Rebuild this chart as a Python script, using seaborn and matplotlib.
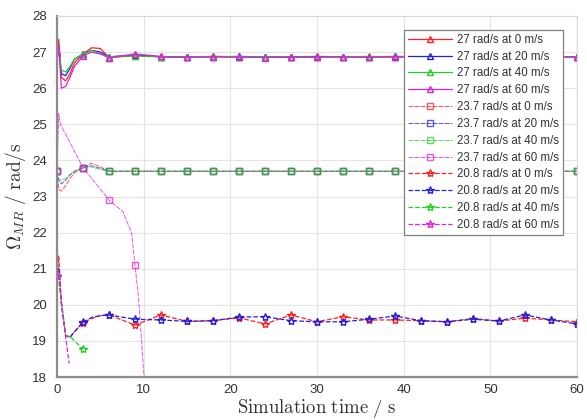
import matplotlib
matplotlib.use("Agg")
import matplotlib.pyplot as plt
import numpy as np
import pandas as pd
import seaborn as sns

# ---- data -------------------------------------------------------------
# shared time base for the series that run the full simulation
t_full = [0, 0.2, 0.5, 1, 1.5, 2, 3, 4, 5, 6, 9, 12, 15, 18, 21, 24, 27,
          30, 33, 36, 39, 42, 45, 48, 51, 54, 57, 60]

# 27 rad/s set-point
w27_v0 = [27.0, 27.35, 26.3, 26.2, 26.4, 26.7, 26.95, 27.12, 27.1, 26.85, 26.9,
          26.87, 26.86, 26.88, 26.87, 26.86, 26.87, 26.88, 26.87, 26.86, 26.87,
          26.87, 26.86, 26.87, 26.88, 26.87, 26.87, 26.87]
w27_v20 = [27.0, 27.1, 26.4, 26.35, 26.55, 26.8, 26.95, 27.05, 27.0, 26.87, 26.92,
           26.87, 26.87, 26.87, 26.88, 26.87, 26.86, 26.87, 26.87, 26.87, 26.88,
           26.87, 26.87, 26.86, 26.87, 26.87, 26.88, 26.87]
w27_v40 = [27.0, 27.1, 26.5, 26.45, 26.6, 26.8, 26.95, 27.05, 26.95, 26.87, 26.9,
           26.87, 26.87, 26.88, 26.87, 26.87, 26.87, 26.86, 26.87, 26.88, 26.87,
           26.87, 26.87, 26.87, 26.86, 26.87, 26.87, 26.87]
w27_v60 = [27.0, 27.2, 26.0, 26.05, 26.3, 26.6, 26.9, 27.0, 26.95, 26.84, 26.95,
           26.88, 26.86, 26.87, 26.86, 26.85, 26.87, 26.86, 26.87, 26.86, 26.87,
           26.86, 26.87, 26.87, 26.86, 26.87, 26.86, 26.87]

# 23.7 rad/s set-point
w237_v0 = [23.7, 23.2, 23.15, 23.3, 23.5, 23.65, 23.8, 23.92, 23.82, 23.7, 23.7,
           23.7, 23.7, 23.7, 23.7, 23.7, 23.7, 23.7, 23.7, 23.7, 23.7, 23.7,
           23.7, 23.7, 23.7, 23.7, 23.7, 23.7]
w237_v20 = [23.7, 23.45, 23.35, 23.45, 23.6, 23.7, 23.8, 23.85, 23.78, 23.7, 23.7,
            23.7, 23.7, 23.7, 23.7, 23.7, 23.7, 23.7, 23.7, 23.7, 23.7, 23.7,
            23.7, 23.7, 23.7, 23.7, 23.7, 23.7]
w237_v40 = [23.7, 23.5, 23.45, 23.5, 23.6, 23.7, 23.8, 23.82, 23.75, 23.7, 23.7,
            23.7, 23.7, 23.7, 23.7, 23.7, 23.7, 23.7, 23.7, 23.7, 23.7, 23.7,
            23.7, 23.7, 23.7, 23.7, 23.7, 23.7]
t_w237_v60 = [0, 0.2, 0.4, 3, 6, 7.6, 8.6, 9, 9.4, 9.7, 9.9, 10.05]
w237_v60 = [23.7, 25.3, 25.0, 23.8, 22.9, 22.58, 22.0, 21.1, 20.2, 19.2, 18.5, 18.0]

# 20.8 rad/s set-point
w208_v0 = [20.8, 21.35, 20.1, 19.15, 19.1, 19.25, 19.5, 19.62, 19.7, 19.72, 19.44,
           19.72, 19.54, 19.56, 19.64, 19.47, 19.72, 19.53, 19.67, 19.58, 19.58,
           19.56, 19.53, 19.62, 19.55, 19.63, 19.58, 19.53]
w208_v20 = [20.8, 21.0, 20.05, 19.15, 19.1, 19.25, 19.52, 19.65, 19.7, 19.72, 19.6,
            19.58, 19.54, 19.56, 19.66, 19.67, 19.56, 19.53, 19.53, 19.6, 19.69,
            19.56, 19.53, 19.6, 19.55, 19.72, 19.58, 19.47]
t_w208_v40 = [0, 0.2, 0.5, 1, 1.5, 2, 3]
w208_v40 = [20.8, 20.7, 20.05, 19.15, 19.12, 19.0, 18.78]
t_w208_v60 = [0, 0.2, 0.5, 1, 1.4]
w208_v60 = [20.8, 20.9, 20.05, 19.1, 18.38]

labels = ["27 rad/s at 0 m/s", "27 rad/s at 20 m/s", "27 rad/s at 40 m/s",
          "27 rad/s at 60 m/s", "23.7 rad/s at 0 m/s", "23.7 rad/s at 20 m/s",
          "23.7 rad/s at 40 m/s", "23.7 rad/s at 60 m/s", "20.8 rad/s at 0 m/s",
          "20.8 rad/s at 20 m/s", "20.8 rad/s at 40 m/s", "20.8 rad/s at 60 m/s"]
times = [t_full, t_full, t_full, t_full, t_full, t_full, t_full, t_w237_v60,
         t_full, t_full, t_w208_v40, t_w208_v60]
values = [w27_v0, w27_v20, w27_v40, w27_v60, w237_v0, w237_v20, w237_v40,
          w237_v60, w208_v0, w208_v20, w208_v40, w208_v60]

frames = [pd.DataFrame({"series": lab, "t": t, "omega": v})
          for lab, t, v in zip(labels, times, values)]
df = pd.concat(frames, ignore_index=True)

# ---- style ------------------------------------------------------------
sns.set_theme(style="whitegrid")
plt.rcParams["font.family"] = ["Liberation Sans", "DejaVu Sans"]
plt.rcParams["mathtext.fontset"] = "cm"

colors = ["#ff2020", "#2020e0", "#20d020", "#e020e0"]
group_marker = {"27": "^", "23.7": "s", "20.8": "*"}
group_ls = {"27": "-", "23.7": (0, (5, 1.2)), "20.8": "--"}
group_lw = {"27": 0.9, "23.7": 0.7, "20.8": 0.9}
group_alpha = {"27": 1.0, "23.7": 0.75, "20.8": 1.0}
group_ms = {"27": 5.0, "23.7": 4.3, "20.8": 6.0}

fig = plt.figure(figsize=(5.87, 4.20), dpi=100)
ax = fig.add_axes([57 / 587, 1 - 377 / 420, 520 / 587, 361 / 420])

for i, lab in enumerate(labels):
    sub = df[df["series"] == lab]
    grp = lab.split()[0]
    tt = sub["t"].to_numpy()
    every = [k for k, x in enumerate(tt) if abs(x / 3 - round(x / 3)) < 1e-9]
    sns.lineplot(data=sub, x="t", y="omega", ax=ax, sort=False, estimator=None,
                 color=colors[i % 4], linestyle=group_ls[grp],
                 linewidth=group_lw[grp], alpha=group_alpha[grp],
                 marker=group_marker[grp], markersize=group_ms[grp],
                 markerfacecolor="none", markeredgecolor=colors[i % 4],
                 markeredgewidth=1.0, markevery=every, label=lab)

ax.set_xlim(0, 60)
ax.set_ylim(18, 28)
ax.set_xticks(np.arange(0, 61, 10))
ax.set_yticks(np.arange(18, 29, 1))
ax.grid(True, color="#e4e4e4", linewidth=0.8)
ax.tick_params(axis="both", direction="in", length=4, width=0.8,
               colors="#707070", labelcolor="#333333", labelsize=9.5)
ax.tick_params(axis="y", pad=7)
ax.tick_params(axis="x", pad=5)
for side in ["left", "bottom"]:
    ax.spines[side].set_color("#8c8c8c")
    ax.spines[side].set_linewidth(1.6)
for side in ["top", "right"]:
    ax.spines[side].set_color("#d8d8d8")
    ax.spines[side].set_linewidth(0.8)

ax.set_xlabel(r"$\mathrm{Simulation\ time\ /\ s}$", fontsize=13.5, labelpad=1,
              color="#333333")
ax.set_ylabel(r"$\Omega_{MR}\ \mathrm{/\ rad/s}$", fontsize=14, labelpad=3,
              color="#333333")

leg = ax.legend(loc="upper right", bbox_to_anchor=(0.973, 0.962), fontsize=8.3,
                frameon=True, fancybox=False, framealpha=1, edgecolor="#808080",
                handlelength=3.8, handletextpad=0.45, labelspacing=0.42,
                borderpad=0.35, borderaxespad=0)
leg.get_frame().set_linewidth(0.9)
for txt in leg.get_texts():
    txt.set_color("#333333")

fig.savefig("out.png", dpi=100)
